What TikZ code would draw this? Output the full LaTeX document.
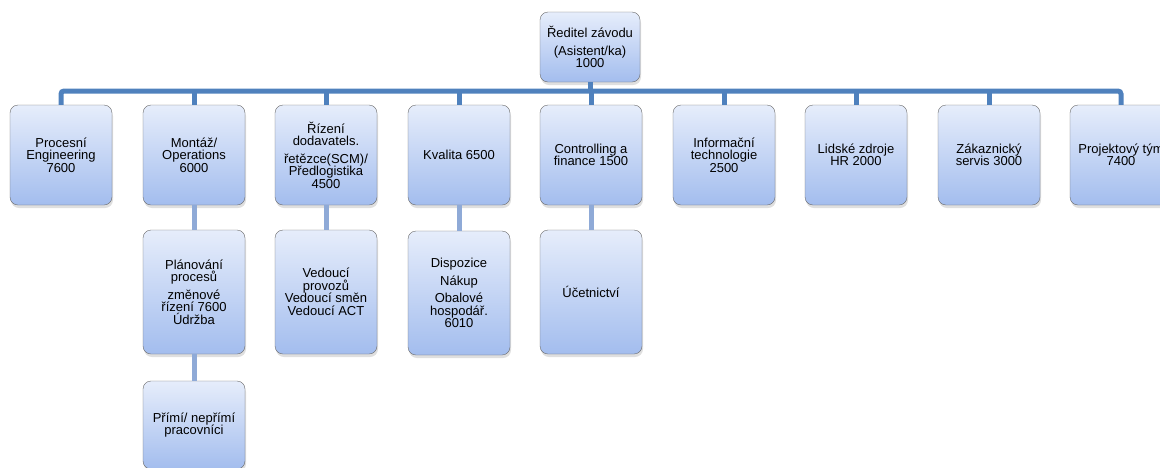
\documentclass[tikz,border=0pt]{standalone}
\usepackage{fontspec}
\setmainfont{Liberation Sans}
\usetikzlibrary{positioning, shadows}
\definecolor{busblue}{RGB}{79, 129, 189}
\definecolor{stemblue}{RGB}{143, 170, 215}
\definecolor{boxtop}{RGB}{230, 237, 251}
\definecolor{boxbottom}{RGB}{163, 189, 238}
\definecolor{boxedge}{RGB}{105, 105, 105}

\begin{document}
\begin{tikzpicture}[
    x=1pt, y=-1pt,
    unit/.style={rectangle, draw=boxedge, rounded corners=8pt, top color=boxtop, bottom color=boxbottom, minimum width=102pt, minimum height=100pt, align=center, inner sep=2pt, font=\fontsize{13}{12.5}\selectfont, drop shadow={shadow xshift=1pt, shadow yshift=-3pt, opacity=0.25}},
    subunit/.style={unit, minimum height=124pt},
    bus/.style={busblue, line width=5pt},
    stem/.style={stemblue, line width=5pt}
]

\clip (0,0) rectangle (1160,467);

% Plant director
\node[unit, minimum width=100pt, minimum height=70pt] (reditel) at (590, 47) {Ředitel závodu\\[5pt] (Asistent/ka)\\ 1000};

% Departments
\node[unit] (procesni) at (61, 155) {Procesní\\ Engineering\\ 7600};
\node[unit] (montaz) at (194, 155) {Montáž/\\ Operations\\ 6000};
\node[unit] (scm) at (326, 155) {Řízení\\ dodavatels.\\[5pt] řetězce(SCM)/\\ Předlogistika\\ 4500};
\node[unit] (kvalita) at (459, 155) {Kvalita 6500};
\node[unit] (controlling) at (591, 155) {Controlling a\\ finance 1500};
\node[unit] (it) at (724, 155) {Informační\\ technologie\\ 2500};
\node[unit] (hr) at (856, 155) {Lidské zdroje\\ HR 2000};
\node[unit] (servis) at (989, 155) {Zákaznický\\ servis 3000};
\node[unit] (projekt) at (1121, 155) {Projektový tým\\ 7400};

% Sub-units
\node[subunit] (planovani) at (194, 292) {Plánování\\ procesů\\[5pt] změnové\\ řízení 7600\\ Údržba};
\node[subunit] (vedouci) at (326, 292) {Vedoucí\\ provozů\\ Vedoucí směn\\ Vedoucí ACT};
\node[subunit] (dispozice) at (459, 293) {Dispozice\\[5pt] Nákup\\[5pt] Obalové\\ hospodář.\\ 6010};
\node[subunit] (ucetnictvi) at (591, 292) {Účetnictví};
\node[unit, minimum height=88pt] (primi) at (194, 425) {Přímí/ nepřímí\\ pracovníci};

% Bus
\coordinate (bus) at (0, 91);
\draw[bus, rounded corners=3pt] (procesni.north) |- (bus -| projekt.north) -- (projekt.north);
\draw[bus] (reditel.south) -- (reditel.south |- bus);
\foreach \n in {montaz, scm, kvalita, controlling, it, hr, servis}
    \draw[bus] (\n.north) -- (\n.north |- bus);

% Stems
\draw[stem] (montaz.south) -- (planovani.north);
\draw[stem] (planovani.south) -- (primi.north);
\draw[stem] (scm.south) -- (vedouci.north);
\draw[stem] (kvalita.south) -- (dispozice.north);
\draw[stem] (controlling.south) -- (ucetnictvi.north);

\end{tikzpicture}
\end{document}
